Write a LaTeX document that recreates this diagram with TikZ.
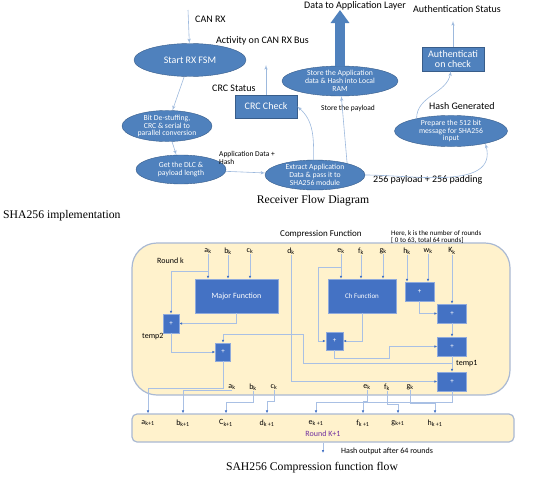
\documentclass[tikz,border=0pt]{standalone}
\usepackage{fontspec}
\setmainfont{Liberation Serif}
\newfontfamily\calfont{Carlito}
\usetikzlibrary{arrows,arrows.meta,calc,shapes.geometric}
\definecolor{ellblue}{HTML}{4F81BD}
\definecolor{elledge}{HTML}{385D8A}
\definecolor{boxblue}{HTML}{4472C4}
\definecolor{boxedge}{HTML}{8FAADC}
\definecolor{wire}{HTML}{9DB9DD}
\definecolor{cwire}{HTML}{A9C0E4}
\definecolor{roundfill}{HTML}{FFF2CC}
\definecolor{roundedge}{HTML}{A9B9D3}
\definecolor{roundtext}{HTML}{7030A0}
\newcommand\fsz[1]{\fontsize{#1}{#1}\selectfont}
\newcommand\subl[2]{#1\textsubscript{#2}}
\tikzset{lbl/.style={inner sep=0pt, anchor=west, font=\calfont\fsz{10}}}
\tikzset{flow/.style={draw=elledge, fill=ellblue, ellipse, text=white, align=center, inner sep=0pt, font=\calfont\fsz{7.7}}}
\tikzset{box/.style={draw=elledge, fill=ellblue, rectangle, text=white, align=center, inner sep=0pt, font=\calfont\fsz{10}}}
\tikzset{line/.style={draw=wire, semithick, -latex'}}
\tikzset{appout/.style={draw=ellblue, line width=10pt, -{Triangle[width=18pt,length=13pt]}}}
\tikzset{func/.style={draw=boxedge, fill=boxblue, rectangle, text=white, inner sep=0pt, font=\calfont\fsz{8}}}
\tikzset{sum/.style={func, font=\calfont\fsz{7}}}
\tikzset{var/.style={inner sep=0.5pt, font=\calfont\fsz{8}}}
\tikzset{round/.style={draw=roundedge, fill=roundfill, line width=1.2pt, rectangle, rounded corners=25pt}}
\tikzset{link/.style={draw=cwire, semithick, -{Latex[length=3pt,width=2.6pt,color=boxblue]}}}
\tikzset{caption/.style={inner sep=0pt, font=\fsz{11.7}}}

\begin{document}
\begin{tikzpicture}[x=1pt, y=-1pt]
    \useasboundingbox (0,0) rectangle (546,482);

    \node [lbl] (canrx) at (195,19) {CAN RX};
    \coordinate (rxin) at (188,10);
    \node [flow, minimum width=112pt, minimum height=33pt, font=\calfont\fsz{10}] (fsm) at (190,60) {Start RX FSM};
    \node [lbl] (activity) at (216,41) {Activity on CAN RX Bus};
    \node [lbl] (crcstat) at (212,88) {CRC Status};
    \node [box, minimum width=62pt, minimum height=23pt] (crc) at (266,106.5) {CRC Check};
    \coordinate (crcout) at (266,65);
    \node [flow, minimum width=116pt, minimum height=30pt] (store) at (340,81) {Store the Application\\data \& Hash into Local\\RAM};
    \coordinate (apptop) at (340,10);
    \node [lbl] (appl) at (304,6) {Data to Application Layer};
    \node [lbl] (authstat) at (413,9) {Authentication Status};
    \node [box, minimum width=62pt, minimum height=24pt] (auth) at (453,59) {Authenticati\\on check};
    \coordinate (authout) at (453,21);
    \node [lbl, font=\calfont\fsz{7.5}] (paylbl) at (321,108) {Store the payload};
    \node [lbl] (hashgen) at (429,106) {Hash Generated};
    \node [flow, minimum width=113pt, minimum height=30pt] (prep) at (451,131) {Prepare the 512 bit\\message for SHA256\\input};
    \node [flow, minimum width=100pt, minimum height=30pt] (extract) at (315,175) {Extract Application\\Data \& pass it to\\SHA256 module};
    \node [lbl] (padlbl) at (373,180) {256 payload + 256 padding};
    \node [flow, minimum width=90pt, minimum height=28pt] (destuff) at (167,126) {Bit De-stuffing,\\CRC \& serial to\\parallel conversion};
    \node [flow, minimum width=90pt, minimum height=29pt] (dlc) at (181,169.5) {Get the DLC \&\\payload length};
    \node [lbl, anchor=north west, align=left, font=\calfont\fsz{7.5}] (appdata) at (219,151.5) {Application Data +\\Hash};

    \path [line] (rxin) -- (fsm);
    \path [line] (fsm) -- (destuff);
    \path [line] (destuff) -- (dlc);
    \path [line] (dlc) -- (extract);
    \path [line] (crc) -- (crcout);
    \draw [line] (extract.95) to[out=90,in=-40] (crc.east);
    \path [line] (extract.20) -- (store);
    \draw [line] (extract.east) to[out=0,in=-75] (prep.-20);
    \draw [line] (prep.160) to[out=90,in=-100] (auth);
    \path [line] (auth) -- (authout);
    \draw [appout] (store) -- (apptop);

    \node [caption] (rcap) at (313,201) {Receiver Flow Diagram};
    \node [caption, anchor=west] (shacap) at (3,216) {SHA256 implementation};

    \node [round, minimum width=378pt, minimum height=152pt] (compr) at (321,319) {};
    \node [round, rounded corners=5pt, minimum width=382pt, minimum height=28pt] (nextround) at (323,428) {};
    \node [lbl, font=\calfont\fsz{9}] (comphead) at (280,234) {Compression Function};
    \node [lbl, align=left, font=\calfont\fsz{7}] (roundnote) at (391,237.5) {Here, k is the number of rounds\\{[} 0 to 63, total 64 rounds]};
    \node [lbl, font=\calfont\fsz{8}] (roundk) at (157,261) {Round k};

    \node [var] (ak) at (208,251) {\subl{a}{k}};
    \node [var] (bk) at (228,251) {\subl{b}{k}};
    \node [var] (ck) at (250,251) {\subl{c}{k}};
    \node [var] (dk) at (291,251) {\subl{d}{k}};
    \node [var] (ek) at (341,251) {\subl{e}{k}};
    \node [var] (fk) at (361,251) {\subl{f}{k}};
    \node [var] (gk) at (383,251) {\subl{g}{k}};
    \node [var] (hk) at (407,251) {\subl{h}{k}};
    \node [var] (wk) at (428,251) {\subl{w}{k}};
    \node [var] (Kk) at (452,251) {\subl{K}{k}};

    \node [func, minimum width=83pt, minimum height=34pt] (major) at (236.5,296) {Major Function};
    \node [func, minimum width=68pt, minimum height=34pt, font=\calfont\fsz{7}] (ch) at (362,296) {Ch Function};
    \node [sum, minimum width=16pt, minimum height=19pt] (sumtwo) at (171,323.5) {+};
    \node [sum, minimum width=15pt, minimum height=18pt] (suma) at (223,352) {+};
    \node [sum, minimum width=17pt, minimum height=18pt] (sume) at (334.5,341) {+};
    \node [sum, minimum width=29pt, minimum height=19pt] (sumhw) at (419.5,291.5) {+};
    \node [sum, minimum width=29pt, minimum height=19pt] (sumk) at (452,313.5) {+};
    \node [sum, minimum width=29pt, minimum height=19pt] (sumone) at (452,346.5) {+};
    \node [sum, minimum width=29pt, minimum height=19pt] (sumd) at (452,381.5) {+};
    \node [lbl, font=\calfont\fsz{8}] (temptwo) at (142,337) {temp2};
    \node [lbl, font=\calfont\fsz{8}] (tempone) at (456,364) {temp1};

    \node [var] (ako) at (232,387) {\subl{a}{k}};
    \node [var] (bko) at (253,387) {\subl{b}{k}};
    \node [var] (cko) at (274,387) {\subl{c}{k}};
    \node [var] (eko) at (367,387) {\subl{e}{k}};
    \node [var] (fko) at (387,387) {\subl{f}{k}};
    \node [var] (gko) at (410,387) {\subl{g}{k}};

    \node [var] (ak1) at (148,423) {\subl{a}{k+1}};
    \node [var] (bk1) at (183,423) {\subl{b}{k+1}};
    \node [var] (ck1) at (226,423) {\subl{C}{k+1}};
    \node [var] (dk1) at (267,423) {\subl{d}{k +1}};
    \node [var] (ek1) at (316,423) {\subl{e}{k +1}};
    \node [var] (fk1) at (363,423) {\subl{f}{k +1}};
    \node [var] (gk1) at (398,423) {\subl{g}{k+1}};
    \node [var] (hk1) at (435,423) {\subl{h}{k +1}};
    \node [var, text=roundtext] (roundnext) at (323,434) {Round K+1};
    \coordinate (hashout) at (323,453);
    \node [lbl, font=\calfont\fsz{8}] (hashlbl) at (341,451) {Hash output after 64 rounds};
    \node [caption] (scap) at (312,468) {SAH256 Compression function flow};

    \coordinate (abr) at (208,271);
    \coordinate (ebr) at (341,267);
    \coordinate (tonebr) at (452,363);

    \path [link] (ak) -- (ak |- major.north);
    \path [link] (bk) -- (bk |- major.north);
    \path [link] (ck) -- (ck |- major.north);
    \path [link] (ek) -- (ek |- ch.north);
    \path [link] (fk) -- (fk |- ch.north);
    \path [link] (gk) -- (gk |- ch.north);
    \path [link] (hk) -- (hk |- sumhw.north);
    \path [link] (wk) -- (wk |- sumhw.north);
    \path [link] (Kk) -- (sumk);

    \draw [link] (abr) -| (sumtwo.north);
    \draw [link] (major.south) |- (sumtwo.east);
    \draw [link] (sumtwo.south) |- (suma.west);
    \draw [link] (tonebr) -| (303,334) -| (suma.north);
    \draw [link] (dk) |- (sumd.west);
    \draw [link] (ebr) -- (318,267) |- (sume.west);
    \draw [link] (ch.south) |- (sume.east);
    \draw [link] (sume.south) |- (389,358) |- (sumone.west);
    \draw [link] (sumhw.south) |- (sumk.west);
    \path [link] (sumk) -- (sumone);
    \path [link] (sumone) -- (sumd);

    \draw [link] (suma.south) -- ++(0,27) -| (ak1 |- nextround.north);
    \draw [link] (sumd.south) -- ++(0,11) -| (ek1 |- nextround.north);
    \draw [link] (ako.south) -| (bk1 |- nextround.north);
    \draw [link] (bko.south) -- ++(0,11) -| (ck1 |- nextround.north);
    \draw [link] (cko.south) -- ++(0,11) -| (dk1 |- nextround.north);
    \draw [link] (eko.south) -- ++(0,11) -| (fk1 |- nextround.north);
    \draw [link] (fko.south) -- ++(0,13) -| (gk1 |- nextround.north);
    \draw [link] (gko.south) -- ++(0,13) -| (hk1 |- nextround.north);
    \path [link] (nextround.south) -- (hashout);
\end{tikzpicture}
\end{document}
